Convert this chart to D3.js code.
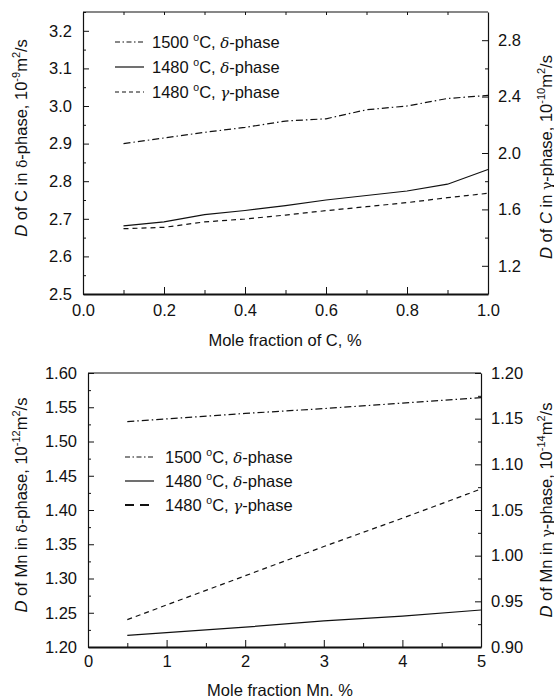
<!DOCTYPE html>
<html>
<head>
<meta charset="utf-8">
<title>D of C and Mn</title>
<script src="https://cdn.jsdelivr.net/npm/d3@7/dist/d3.min.js"></script>
<style>
  body { margin: 0; background: #fff; }
  svg text { font-family: "Liberation Sans", Arial, sans-serif; fill: #111; }
  .axis path, .axis line { stroke: #111; }
  .line { fill: none; stroke: #111; stroke-width: 1.2; }
</style>
</head>
<body>
<script>
// top chart: carbon
var cX = [0.1, 0.2, 0.3, 0.4, 0.5, 0.6, 0.7, 0.8, 0.9, 1.0];
var c1500d = [2.90, 2.915, 2.93, 2.943, 2.96, 2.966, 2.99, 3.00, 3.02, 3.028];
var c1480d = [2.681, 2.692, 2.711, 2.722, 2.735, 2.75, 2.762, 2.774, 2.792, 2.831];
var c1480g = [1.463, 1.473, 1.511, 1.532, 1.56, 1.591, 1.619, 1.648, 1.683, 1.714];
var cLeftTicks = [2.5, 2.6, 2.7, 2.8, 2.9, 3.0, 3.1, 3.2];
var cRightTicks = [1.2, 1.6, 2.0, 2.4, 2.8];
var cXTicks = [0, 0.2, 0.4, 0.6, 0.8, 1.0];

// bottom chart: manganese
var mX = [0.5, 1, 2, 3, 4, 5];
var m1500d = [1.529, 1.533, 1.541, 1.548, 1.556, 1.564];
var m1480d = [1.217, 1.221, 1.229, 1.238, 1.245, 1.254];
var m1480g = [0.930, 0.946, 0.978, 1.010, 1.041, 1.073];
var mLeftTicks = [1.20, 1.25, 1.30, 1.35, 1.40, 1.45, 1.50, 1.55, 1.60];
var mRightTicks = [0.90, 0.95, 1.00, 1.05, 1.10, 1.15, 1.20];
var mXTicks = [0, 1, 2, 3, 4, 5];

var legendText = [["1500 ", "C, ", "-phase", "δ"], ["1480 ", "C, ", "-phase", "δ"], ["1480 ", "C, ", "-phase", "γ"]];

var width = 554, height = 698;
var svg = d3.select("body").append("svg").attr("width", width).attr("height", height);

var dashDot = "7,3,1.5,3";
var dashed = "5,4";
var tickFont = 16.5, textFont = 16.5;

function drawPanel(o) {
    var x = d3.scaleLinear().domain(o.xDomain).range([o.left, o.right]);
    var yL = d3.scaleLinear().domain(o.lDomain).range([o.bottom, o.top]);
    var yR = d3.scaleLinear().domain(o.rDomain).range([o.bottom, o.top]);
    var g = svg.append("g");

    // frame top
    g.append("line").attr("x1", o.left).attr("x2", o.right).attr("y1", o.top).attr("y2", o.top)
        .attr("stroke", "#111").attr("stroke-width", 1.2);

    // minor ticks
    var minorL = d3.axisLeft(yL).tickValues(o.lMinor).tickSize(-3).tickFormat("");
    g.append("g").attr("class", "axis").attr("transform", "translate(" + o.left + ",0)").call(minorL)
        .select(".domain").remove();
    var minorR = d3.axisRight(yR).tickValues(o.rMinor).tickSize(-3).tickFormat("");
    g.append("g").attr("class", "axis").attr("transform", "translate(" + o.right + ",0)").call(minorR)
        .select(".domain").remove();
    var minorX = d3.axisBottom(x).tickValues(o.xMinor).tickSize(-4).tickFormat("");
    g.append("g").attr("class", "axis").attr("transform", "translate(0," + o.bottom + ")").call(minorX)
        .select(".domain").remove();
    if (o.topTicks) {
        var topAx = d3.axisTop(x).tickValues(o.topTicks).tickSize(-3).tickFormat("");
        g.append("g").attr("class", "axis").attr("transform", "translate(0," + o.top + ")").call(topAx)
            .select(".domain").remove();
    }

    // major axes
    var axL = d3.axisLeft(yL).tickValues(o.lTicks).tickSizeInner(-6).tickSizeOuter(0)
        .tickPadding(11).tickFormat(d3.format(o.lFmt));
    var gl = g.append("g").attr("class", "axis").attr("transform", "translate(" + o.left + ",0)").call(axL);
    var axR = d3.axisRight(yR).tickValues(o.rTicks).tickSizeInner(-6).tickSizeOuter(0)
        .tickPadding(10).tickFormat(d3.format(o.rFmt));
    var gr = g.append("g").attr("class", "axis").attr("transform", "translate(" + o.right + ",0)").call(axR);
    var axB = d3.axisBottom(x).tickValues(o.xTicks).tickSizeInner(-7).tickSizeOuter(0)
        .tickPadding(o.xPad).tickFormat(d3.format(o.xFmt));
    var gb = g.append("g").attr("class", "axis").attr("transform", "translate(0," + o.bottom + ")").call(axB);
    gb.select(".domain").attr("stroke", "#555").attr("stroke-width", 2.2);
    gl.select(".domain").attr("stroke-width", 1.2);
    gr.select(".domain").attr("stroke-width", 1.2);
    g.selectAll(".axis text").attr("font-size", tickFont).attr("fill", "#111");
    g.selectAll(".axis line").attr("stroke-width", 1);

    // series
    var series = [
        {vals: o.s1, y: yL, dash: dashDot},
        {vals: o.s2, y: yL, dash: null},
        {vals: o.s3, y: yR, dash: dashed}
    ];
    series.forEach(function (s) {
        var line = d3.line()
            .x(function (d, i) { return x(o.xs[i]); })
            .y(function (d) { return s.y(d); });
        g.append("path").datum(s.vals).attr("class", "line")
            .attr("d", line)
            .attr("stroke-dasharray", s.dash);
    });

    // legend
    var leg = g.append("g");
    legendText.forEach(function (t, i) {
        var yy = o.legY + i * o.legStep;
        var ln = leg.append("line").attr("x1", o.legX).attr("x2", o.legX + 29)
            .attr("y1", yy).attr("y2", yy).attr("stroke", "#111").attr("stroke-width", 1.2);
        if (i === 0) ln.attr("stroke-dasharray", "5,2.5,1.5,2.5");
        if (i === 2) {
            ln.attr("stroke-dasharray", o.legDash);
            if (o.legThick) ln.attr("stroke-width", 2.2);
        }
        var tx = leg.append("text").attr("x", o.legX + o.legGap).attr("y", yy + 6).attr("font-size", textFont);
        tx.append("tspan").text(t[0]);
        tx.append("tspan").text("o").attr("font-size", 10.5).attr("dy", -7);
        tx.append("tspan").text(t[1]).attr("dy", 7);
        tx.append("tspan").text(t[3]).attr("font-family", "DejaVu Serif").attr("font-style", "italic").attr("font-size", 15);
        tx.append("tspan").text(t[2]);
    });

    // axis titles
    function yTitle(cx, cy, pre, el, exp) {
        var t = g.append("text").attr("transform", "translate(" + cx + "," + cy + ") rotate(-90)")
            .attr("text-anchor", "middle").attr("font-size", 16.5);
        t.append("tspan").text("D").attr("font-style", "italic");
        t.append("tspan").text(" of ");
        t.append("tspan").text(el[0]).attr("font-style", el[1] ? "italic" : "normal");
        t.append("tspan").text(" in ");
        t.append("tspan").text(pre).attr("font-family", "DejaVu Serif").attr("font-size", 14);
        t.append("tspan").text("-phase, 10");
        t.append("tspan").text(exp).attr("font-size", 11).attr("dy", -7);
        t.append("tspan").text("m").attr("dy", 7);
        t.append("tspan").text("2").attr("font-size", 11).attr("dy", -7);
        t.append("tspan").text("/s").attr("dy", 7);
    }
    yTitle(27, o.lTitleY, "δ", [o.el, false], o.lExp);
    yTitle(552, o.rTitleY, "γ", [o.el, o.rItalic], o.rExp);

    g.append("text").attr("x", o.xTitleX).attr("y", o.xTitleY).attr("text-anchor", "middle")
        .attr("font-size", textFont).text(o.xTitle);
}

drawPanel({
    left: 83, right: 488, top: 12, bottom: 294,
    xDomain: [0, 1], lDomain: [2.5, 3.25], rDomain: [1.0, 3.0],
    xs: cX, s1: c1500d, s2: c1480d, s3: c1480g,
    lTicks: cLeftTicks, rTicks: cRightTicks, xTicks: cXTicks,
    lMinor: d3.range(2.55, 3.25, 0.1), rMinor: [1.4, 1.8, 2.2, 2.6],
    xMinor: [0.1, 0.3, 0.5, 0.7, 0.9], topTicks: d3.range(0.1, 1.0, 0.1),
    lFmt: ".1f", rFmt: ".1f", xFmt: ".1f", xPad: 10,
    legX: 115, legY: 42, legStep: 25, legGap: 37, legDash: "4,3", legThick: false,
    el: "C", rItalic: true, lExp: "-9", rExp: "-10",
    lTitleY: 138, rTitleY: 157,
    xTitle: "Mole fraction of C, %", xTitleX: 285, xTitleY: 346
});

drawPanel({
    left: 88, right: 481, top: 373, bottom: 647,
    xDomain: [0, 5], lDomain: [1.2, 1.6], rDomain: [0.9, 1.2],
    xs: mX, s1: m1500d, s2: m1480d, s3: m1480g,
    lTicks: mLeftTicks, rTicks: mRightTicks, xTicks: mXTicks,
    lMinor: d3.range(1.225, 1.6, 0.05), rMinor: d3.range(0.925, 1.2, 0.05),
    xMinor: [0.5, 1.5, 2.5, 3.5, 4.5], topTicks: null,
    lFmt: ".2f", rFmt: ".2f", xFmt: "d", xPad: 8,
    legX: 125, legY: 457, legStep: 24, legGap: 40, legDash: "9,6", legThick: true,
    el: "Mn", rItalic: false, lExp: "-12", rExp: "-14",
    lTitleY: 505, rTitleY: 510,
    xTitle: "Mole fraction Mn. %", xTitleX: 280, xTitleY: 696
});
</script>
</body>
</html>
